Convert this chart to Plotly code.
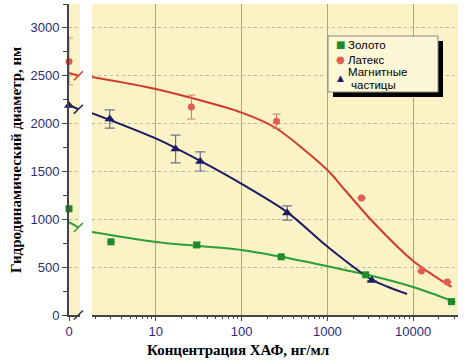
import plotly.graph_objects as go

# ---------------- data ----------------
series_names = ["Золото", "Латекс", "Магнитные", "частицы"]

# values at zero concentration (left panel)
gold_zero = [1110]
latex_zero = [2650]
latex_zero_err = [245]
mag_zero = [2190]

# measured points (log panel)
gold_x = [3, 30, 290, 2800, 28000]
gold_y = [765, 732, 608, 420, 140]
gold_err = [0, 25, 0, 0, 0]

latex_x = [26, 256, 2500, 12500, 25000]
latex_y = [2173, 2025, 1223, 460, 345]
latex_err = [125, 75, 0, 0, 0]

mag_x = [2.9, 17, 33, 340, 3300]
mag_y = [2048, 1735, 1605, 1066, 360]
mag_err = [95, 145, 100, 75, 0]

# fitted curves
gold_fit_x = [1.8, 10, 100, 300, 1000, 3000, 10000, 30000]
gold_fit_y = [867, 763, 680, 606, 510, 418, 293, 140]
latex_fit_x = [1.8, 10, 100, 250, 1000, 1600, 3300, 10000, 28000]
latex_fit_y = [2487, 2361, 2115, 1954, 1515, 1306, 985, 565, 293]
mag_fit_x = [1.8, 10, 33, 100, 340, 1000, 3300, 8500]
mag_fit_y = [2110, 1845, 1610, 1370, 1075, 715, 370, 220]

# left-panel short curve stubs (x in panel units 0..1)
stub_x = [0, 0.85]
gold_stub_y = [972, 915]
latex_stub_y = [2530, 2500]
mag_stub_y = [2195, 2150]

x_tick_vals = [10, 100, 1000, 10000]
x_tick_text = ["10", "100", "1000", "10000"]
y_tick_vals = [0, 500, 1000, 1500, 2000, 2500, 3000]

# ---------------- style ----------------
GREEN_L, GREEN_M = "#2b9e38", "#1e8a2a"
RED_L, RED_M = "#d23a2c", "#e25c52"
NAVY = "#1c1c66"
TICKC = "#2a2a7c"
BG = "#fbf2c6"

fig = go.Figure()

# left panel (x = 0)
for ys, col in [(gold_stub_y, GREEN_L), (latex_stub_y, RED_L), (mag_stub_y, NAVY)]:
    fig.add_trace(go.Scatter(x=stub_x, y=ys, mode="lines", line=dict(color=col, width=2),
                             showlegend=False, xaxis="x", yaxis="y", hoverinfo="skip"))
fig.add_trace(go.Scatter(x=[0], y=gold_zero, mode="markers", cliponaxis=False,
                         marker=dict(symbol="square", size=7, color=GREEN_M),
                         showlegend=False, xaxis="x", yaxis="y"))
fig.add_trace(go.Scatter(x=[0], y=latex_zero, mode="markers", cliponaxis=False,
                         marker=dict(symbol="circle", size=7, color=RED_M),
                         error_y=dict(type="data", array=latex_zero_err, color="#e08a80", thickness=1, width=4),
                         showlegend=False, xaxis="x", yaxis="y"))
fig.add_trace(go.Scatter(x=[0], y=mag_zero, mode="markers", cliponaxis=False,
                         marker=dict(symbol="triangle-up", size=9, color=NAVY),
                         showlegend=False, xaxis="x", yaxis="y"))

# break marks
brk_y_left = [gold_stub_y[1], latex_stub_y[1], mag_stub_y[1], 0]
brk_c = [GREEN_L, RED_L, NAVY, "#333333"]
fig.add_trace(go.Scatter(x=[stub_x[1]] * 4, y=brk_y_left, mode="markers", cliponaxis=False,
                         marker=dict(symbol="line-ne", size=9, line=dict(width=1.5, color=brk_c)),
                         showlegend=False, xaxis="x", yaxis="y", hoverinfo="skip"))
brk_y_main = [gold_fit_y[0], latex_fit_y[0], mag_fit_y[0], 0]
fig.add_trace(go.Scatter(x=[gold_fit_x[0]] * 4, y=brk_y_main, mode="markers", cliponaxis=False,
                         marker=dict(symbol="line-ne", size=9, line=dict(width=1.5, color=brk_c)),
                         showlegend=False, xaxis="x2", yaxis="y", hoverinfo="skip"))

# main panel curves
for fx, fy, col in [(gold_fit_x, gold_fit_y, GREEN_L), (latex_fit_x, latex_fit_y, RED_L),
                    (mag_fit_x, mag_fit_y, NAVY)]:
    fig.add_trace(go.Scatter(x=fx, y=fy, mode="lines", line=dict(color=col, width=2, shape="spline", smoothing=0.8),
                             showlegend=False, xaxis="x2", yaxis="y", hoverinfo="skip"))

# main panel points
fig.add_trace(go.Scatter(x=gold_x, y=gold_y, mode="markers", name=series_names[0],
                         marker=dict(symbol="square", size=7, color=GREEN_M),
                         error_y=dict(type="data", array=gold_err, color="#6a8a6a", thickness=1, width=4),
                         xaxis="x2", yaxis="y", cliponaxis=False, showlegend=False))
fig.add_trace(go.Scatter(x=latex_x, y=latex_y, mode="markers", name=series_names[1],
                         marker=dict(symbol="circle", size=7, color=RED_M),
                         error_y=dict(type="data", array=latex_err, color="#c08060", thickness=1, width=4),
                         xaxis="x2", yaxis="y", cliponaxis=False, showlegend=False))
fig.add_trace(go.Scatter(x=mag_x, y=mag_y, mode="markers", name=series_names[2] + " " + series_names[3],
                         marker=dict(symbol="triangle-up", size=9, color=NAVY),
                         error_y=dict(type="data", array=mag_err, color="#707090", thickness=1.2, width=5),
                         xaxis="x2", yaxis="y", cliponaxis=False, showlegend=False))

L, R, T, B = 69, 14, 4, 49
W, H = 472, 364
pw, ph = W - L - R, H - T - B

def px_x(p):
    return (p - L) / pw

def px_y(p):
    return (H - B - p) / ph

axis_font = dict(family="Arial", size=13, color=TICKC)

fig.update_layout(
    width=W, height=H,
    margin=dict(l=L, r=R, t=T, b=B),
    paper_bgcolor="white",
    plot_bgcolor=BG,
    showlegend=False,
    xaxis=dict(domain=[0, px_x(80)], range=[0, 1], tickvals=[0], ticktext=["0"],
               ticks="outside", ticklen=4, tickcolor="#444", showgrid=False, zeroline=False,
               showline=True, linecolor="#444", linewidth=1.5,
               tickfont=axis_font),
    xaxis2=dict(domain=[px_x(92), 1], type="log", range=[0.256, 4.523], anchor="y",
                tickvals=x_tick_vals, ticktext=x_tick_text, ticks="outside", ticklen=4, tickcolor="#444",
                showgrid=True, gridcolor="#a0a0b8", gridwidth=1.3, zeroline=False,
                showline=True, linecolor="#444", linewidth=1.5,
                minor=dict(ticks="outside", ticklen=2, tickcolor="#444", dtick="D1", showgrid=False),
                tickfont=axis_font),
    yaxis=dict(range=[0, 3250], tickvals=y_tick_vals, ticks="outside", ticklen=5, tickcolor="#444",
               showgrid=True, gridcolor="#b8b8a8", griddash="dot", gridwidth=1, zeroline=False,
               showline=True, linecolor="#444", linewidth=2,
               minor=dict(ticks="outside", ticklen=4, dtick=250, tickcolor="#444", showgrid=False),
               tickfont=axis_font),
)

# custom legend: shadow, box, symbols, labels
fig.add_shape(type="rect", xref="paper", yref="paper",
              x0=px_x(333), x1=px_x(443), y0=px_y(97), y1=px_y(41),
              fillcolor="black", line=dict(width=0), layer="above")
fig.add_shape(type="rect", xref="paper", yref="paper",
              x0=px_x(328), x1=px_x(438), y0=px_y(92), y1=px_y(36),
              fillcolor="#fdf7d6", line=dict(width=1, color="#8a8a8a"), layer="above")

leg_sym = [("■", GREEN_M, 10, 44), ("●", RED_M, 10, 60), ("▲", NAVY, 9, 78)]
for s, c, sz, yy in leg_sym:
    fig.add_annotation(text=s, xref="paper", yref="paper", x=px_x(340), y=px_y(yy),
                       xanchor="center", yanchor="middle", showarrow=False,
                       font=dict(family="DejaVu Sans", size=sz, color=c))
leg_txt = [(series_names[0], 347, 45), (series_names[1], 347, 60),
           (series_names[2], 347, 72), (series_names[3], 350, 85)]
for t, xx, yy in leg_txt:
    fig.add_annotation(text=t, xref="paper", yref="paper", x=px_x(xx), y=px_y(yy),
                       xanchor="left", yanchor="middle", showarrow=False, borderpad=0,
                       font=dict(family="Arial", size=11.5, color="black"))

fig.add_annotation(text="<b>Концентрация ХАФ, нг/мл</b>", xref="paper", yref="paper",
                   x=px_x(238), y=px_y(350), xanchor="center", yanchor="middle", showarrow=False,
                   font=dict(family="Liberation Serif", size=15, color="black"))
fig.add_annotation(text="<b>Гидродинамический диаметр, нм</b>", xref="paper", yref="paper",
                   x=px_x(16), y=px_y(160), xanchor="center", yanchor="middle", showarrow=False,
                   textangle=-90,
                   font=dict(family="Liberation Serif", size=15, color="black"))

fig.write_html("out.html", post_script="document.body.style.margin='0';",
               config={"displayModeBar": False})
